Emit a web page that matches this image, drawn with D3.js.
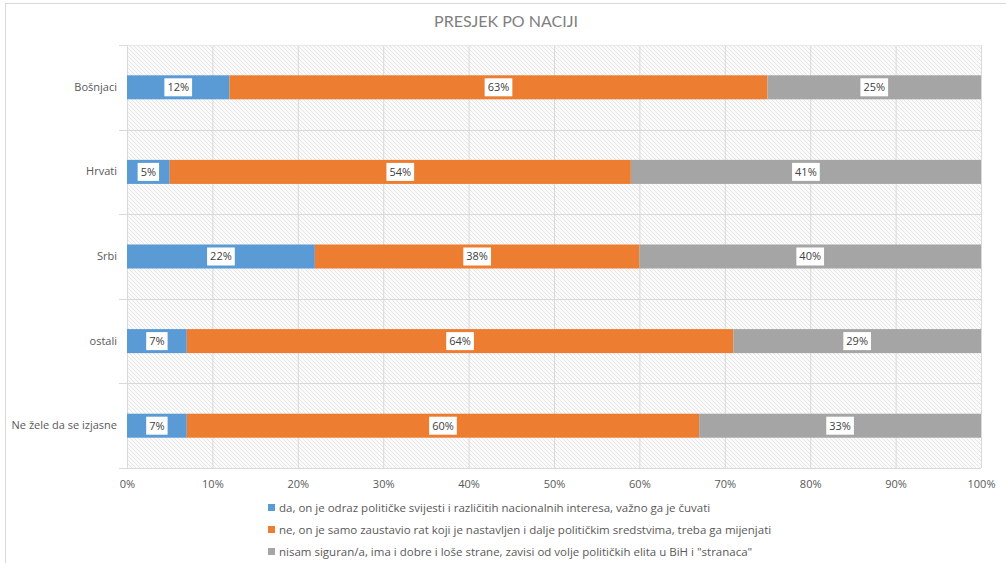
<!DOCTYPE html>
<html><head><meta charset="utf-8">
<script src="https://cdn.jsdelivr.net/npm/d3@7"></script>
<style>body{margin:0;background:#fff;} svg{display:block;font-family:"Open Sans",Lato,sans-serif;}</style>
</head><body>
<script>
const title = "PRESJEK PO NACIJI";
const categories = ["Bošnjaci","Hrvati","Srbi","ostali","Ne žele da se izjasne"];
const seriesNames = [
  "da, on je odraz političke svijesti i različitih nacionalnih interesa, važno ga je čuvati",
  "ne, on je samo zaustavio rat koji je nastavljen i dalje političkim sredstvima, treba ga mijenjati",
  "nisam siguran/a, ima i dobre i loše strane, zavisi od volje političkih elita u BiH i \"stranaca\""
];
const da = [12,5,22,7,7];
const ne = [63,54,38,64,60];
const nisam = [25,41,40,29,33];
const tickLabels = ["0%","10%","20%","30%","40%","50%","60%","70%","80%","90%","100%"];
const colors = ["#5B9BD5","#ED7D31","#A5A5A5"];

const W=1006,H=563;
const FONT="'Open Sans',Lato,sans-serif";
const svg=d3.select("body").append("svg").attr("width",W).attr("height",H);
svg.append("rect").attr("x",5.5).attr("y",3.5).attr("width",W+10).attr("height",H+10).attr("fill","#fff").attr("stroke","#d9d9d9");

const m={l:127,r:981,t:45,b:468};
const x=d3.scaleLinear().domain([0,100]).range([m.l,m.r]);
const y=d3.scaleBand().domain(categories).range([m.t,m.b]).paddingInner(0.716).paddingOuter(0.358);
const yb=d3.scaleBand().domain(categories).range([m.t,m.b]);

const defs=svg.append("defs");
const pat=defs.append("pattern").attr("id","hatch").attr("patternUnits","userSpaceOnUse").attr("width",4).attr("height",4);
pat.append("rect").attr("width",4).attr("height",4).attr("fill","#fbfbfb");
pat.append("path").attr("d","M-1,-1 L5,5 M-1,3 L1,5 M3,-1 L5,1").attr("stroke","#e6e6e6").attr("stroke-width",1);

svg.append("rect").attr("x",m.l).attr("y",m.t).attr("width",m.r-m.l).attr("height",m.b-m.t).attr("fill","url(#hatch)");

const xAxis=d3.axisBottom(x).tickValues(d3.range(0,101,10)).tickFormat((d,i)=>tickLabels[i]).tickSize(-(m.b-m.t)).tickPadding(12);
const gx=svg.append("g").attr("transform",`translate(0,${m.b})`).call(xAxis);
gx.select(".domain").remove();
gx.selectAll("line").attr("stroke","#d9d9d9");
gx.selectAll("text").attr("fill","#595959").style("font-size","11px").style("font-family",FONT);

const bounds=categories.map(c=>yb(c)).concat([m.b]);
svg.append("g").selectAll("line").data(bounds).join("line")
  .attr("x1",m.l-8).attr("x2",m.r).attr("y1",d=>Math.round(d)+0.5).attr("y2",d=>Math.round(d)+0.5)
  .attr("stroke","#d9d9d9");
svg.append("line").attr("x1",m.l).attr("x2",m.r).attr("y1",m.t+0.5).attr("y2",m.t+0.5).attr("stroke","#e8e8e8");

const yAxis=d3.axisLeft(y).tickSize(0).tickPadding(10);
const gy=svg.append("g").attr("transform",`translate(${m.l},0)`).call(yAxis);
gy.select(".domain").remove();
gy.selectAll("text").attr("fill","#595959").style("font-size","11px").style("font-family",FONT);

const rows=categories.map((c,i)=>({cat:c,da:da[i],ne:ne[i],nisam:nisam[i]}));
const stack=d3.stack().keys(["da","ne","nisam"])(rows);
const layers=svg.append("g").selectAll("g").data(stack).join("g").attr("fill",(d,i)=>colors[i]);
layers.selectAll("rect").data(d=>d).join("rect")
  .attr("x",d=>x(d[0])).attr("width",d=>x(d[1])-x(d[0]))
  .attr("y",d=>y(d.data.cat)).attr("height",y.bandwidth());

const lg=svg.append("g");
stack.forEach(layer=>{
  layer.forEach(d=>{
    const v=d[1]-d[0];
    const cx=(x(d[0])+x(d[1]))/2, cy=y(d.data.cat)+y.bandwidth()/2;
    const g=lg.append("g");
    const t=g.append("text").attr("x",cx).attr("y",cy).attr("text-anchor","middle").attr("dy","0.36em")
      .attr("fill","#404040").style("font-size","11px").text(v+"%");
    const bb=t.node().getBBox();
    g.insert("rect","text").attr("x",bb.x-3).attr("y",cy-9).attr("width",bb.width+6).attr("height",18).attr("fill","#fff");
  });
});

svg.append("text").attr("x",506).attr("y",27).attr("text-anchor","middle").attr("fill","#7f7f7f")
  .style("font-size","16px").style("font-family","Lato,sans-serif").text(title);

const leg=svg.append("g");
seriesNames.forEach((s,i)=>{
  const yy=508+i*22;
  leg.append("rect").attr("x",268).attr("y",yy-4).attr("width",7).attr("height",7).attr("fill",colors[i]);
  leg.append("text").attr("x",279).attr("y",yy).attr("dy","0.35em").attr("fill","#595959").style("font-size","11.5px").text(s);
});
</script>
</body></html>
